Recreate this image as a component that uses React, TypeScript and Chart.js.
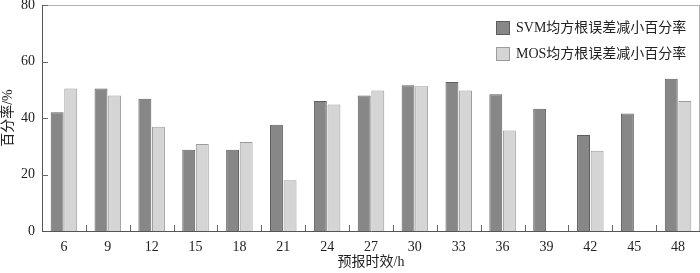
import React, { useEffect, useRef } from "react";
import { Chart, registerables } from "chart.js";

Chart.register(...registerables);

const categories = ["6", "9", "12", "15", "18", "21", "24", "27", "30", "33", "36", "39", "42", "45", "48"];
const svmValues = [42, 50.4, 46.8, 28.8, 28.8, 37.6, 46, 48, 51.6, 52.7, 48.4, 43.3, 34, 41.6, 53.9];
const mosValues: (number | null)[] = [50.4, 48, 36.9, 30.8, 31.5, 18, 44.8, 49.7, 51.2, 49.7, 35.6, null, 28.4, null, 46];
const seriesNames = ["SVM均方根误差减小百分率", "MOS均方根误差减小百分率"];
const yTicks = [0, 20, 40, 60, 80];

const SERIF = "'Liberation Serif', 'Noto Sans CJK SC', serif";

const svmFill = "#878787";
const svmBorder = "#5e5e5e";
const mosFill = "#d5d5d5";
const mosBorder = "#9c9c9c";

const decorPlugin = {
  id: "decor",
  afterDraw(chart: any) {
    const { ctx, chartArea } = chart;
    const { left, right, top, bottom } = chartArea;
    const x = chart.scales.x;
    const y = chart.scales.y;
    ctx.save();
    ctx.strokeStyle = "#b0b0b0";
    ctx.lineWidth = 1;
    ctx.beginPath();
    ctx.moveTo(left, top + 0.5);
    ctx.lineTo(right, top + 0.5);
    ctx.moveTo(right - 0.5, top);
    ctx.lineTo(right - 0.5, bottom);
    ctx.stroke();
    ctx.strokeStyle = "#666";
    ctx.beginPath();
    for (let i = 1; i < categories.length; i++) {
      const px = Math.round((x.getPixelForValue(i - 1) + x.getPixelForValue(i)) / 2) + 0.5;
      ctx.moveTo(px, bottom);
      ctx.lineTo(px, bottom - 6);
    }
    yTicks.forEach((v) => {
      if (v === 0) return;
      const py = Math.round(y.getPixelForValue(v)) + 0.5;
      ctx.moveTo(left, py);
      ctx.lineTo(left + 6, py);
    });
    ctx.stroke();
    const items = [
      { label: seriesNames[0], fill: svmFill, border: svmBorder },
      { label: seriesNames[1], fill: mosFill, border: mosBorder },
    ];
    ctx.font = `14px ${SERIF}`;
    ctx.textBaseline = "middle";
    ctx.textAlign = "left";
    items.forEach((it, i) => {
      const bx = 496;
      const by = 21 + i * 26;
      ctx.fillStyle = it.fill;
      ctx.fillRect(bx, by, 14, 14);
      ctx.strokeStyle = it.border;
      ctx.strokeRect(bx + 0.5, by + 0.5, 13, 13);
      ctx.fillStyle = "#222";
      ctx.fillText(it.label, 516, by + 7.5);
    });
    ctx.restore();
  },
};

export default function App() {
  const ref = useRef<HTMLCanvasElement | null>(null);
  useEffect(() => {
    document.body.style.margin = "0";
    const canvas = ref.current;
    if (!canvas) return;
    const chart = new Chart(canvas, {
      type: "bar",
      data: {
        labels: categories,
        datasets: [
          {
            label: seriesNames[0],
            data: svmValues,
            backgroundColor: svmFill,
            borderColor: svmBorder,
            borderWidth: 1,
            categoryPercentage: 0.62,
            barPercentage: 0.95,
          },
          {
            label: seriesNames[1],
            data: mosValues,
            backgroundColor: mosFill,
            borderColor: mosBorder,
            borderWidth: 1,
            categoryPercentage: 0.62,
            barPercentage: 0.95,
          },
        ],
      },
      options: {
        animation: false,
        responsive: false,
        maintainAspectRatio: false,
        devicePixelRatio: 1,
        layout: { padding: { top: 5, right: 0, left: 0, bottom: 0 } },
        plugins: {
          legend: { display: false },
          tooltip: { enabled: false },
        },
        scales: {
          x: {
            grid: { display: false, drawTicks: false, tickLength: 0 },
            border: { display: true, color: "#555", width: 1 },
            ticks: { color: "#222", font: { family: SERIF, size: 14 }, padding: 8, maxRotation: 0, autoSkip: false },
            title: {
              display: true,
              text: "预报时效/h",
              color: "#222",
              font: { family: SERIF, size: 14 },
              padding: { top: 0, bottom: 2 },
            },
            afterFit: (s: any) => {
              s.height = 42;
              s.paddingLeft = 0;
              s.paddingRight = 0;
            },
          },
          y: {
            min: 0,
            max: 80,
            afterBuildTicks: (s: any) => {
              s.ticks = yTicks.map((v) => ({ value: v }));
            },
            grid: { display: false, drawTicks: false, tickLength: 0 },
            border: { display: true, color: "#555", width: 1 },
            ticks: { color: "#222", font: { family: SERIF, size: 14 }, padding: 7 },
            title: {
              display: true,
              text: "百分率/%",
              color: "#222",
              font: { family: SERIF, size: 14 },
              padding: { top: 0, bottom: 0 },
            },
            afterFit: (s: any) => {
              s.width = 42;
              s.paddingTop = 0;
              s.paddingBottom = 0;
            },
          },
        },
      },
      plugins: [decorPlugin],
    } as any);
    return () => chart.destroy();
  }, []);
  return (
    <div style={{ width: 700, height: 273 }}>
      <canvas ref={ref} width={700} height={273} style={{ width: 700, height: 273, display: "block" }} />
    </div>
  );
}
